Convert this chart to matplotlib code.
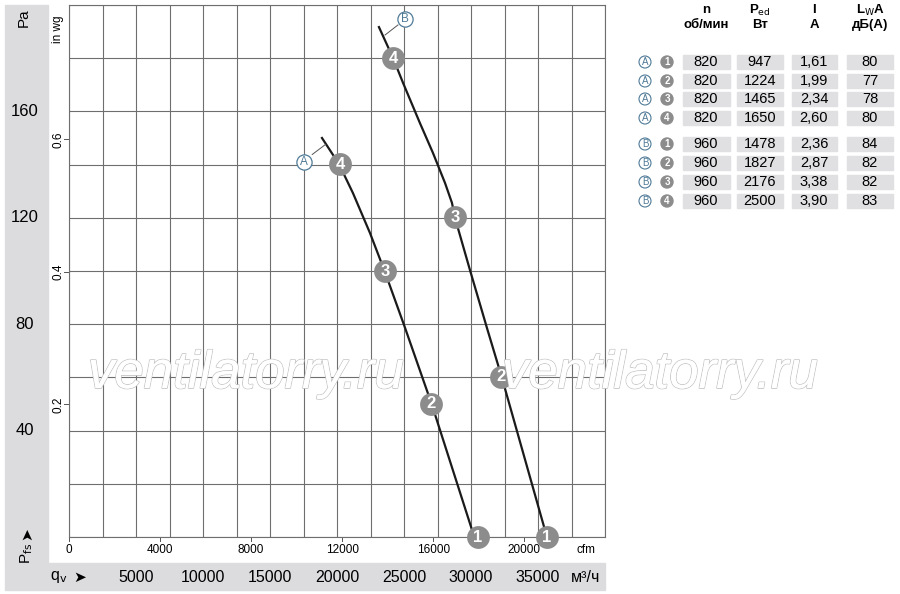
import matplotlib
matplotlib.use("Agg")
from matplotlib import pyplot as plt, font_manager
import matplotlib.patheffects as pe
import matplotlib.transforms as mtrans
from matplotlib.patches import Rectangle, Ellipse

# pick a condensed font if there is one
names = {f.name for f in font_manager.fontManager.ttflist}
narrow = 'Liberation Sans Narrow' if 'Liberation Sans Narrow' in names else 'Liberation Sans'
plt.rcParams['font.family'] = [narrow, 'DejaVu Sans']

# curves: flow in m3/h, static pressure in Pa
qa = [18880, 20150, 21190, 22460, 23580, 25080, 27090, 30150, 30300]
pa = [150.0, 140.2, 129.3, 114.3, 99.6, 78.6, 49.6, 1.5, 0]
qb = [23130, 24180, 24930, 26190, 27160, 28060, 28580, 28810, 29920, 31190, 32310, 35520, 35650]
pb = [191.7, 180.1, 170.7, 155.6, 144.4, 133.1, 125.6, 119.9, 100.4, 78.6, 59.8, 2.6, 0]

# operating points 4..1
opa_q = [20220, 23580, 27020, 30520]
opa_p = [140.2, 100.0, 50.0, 0]
opb_q = [24180, 28810, 32240, 35670]
opb_p = [180.0, 120.3, 60.2, 0]
op_num = ['4', '3', '2', '1']

pa_ticks = [40, 80, 120, 160]
inwg_ticks = [0.2, 0.4, 0.6]
cfm_ticks = [0, 4000, 8000, 12000, 16000, 20000]
m3h_ticks = [5000, 10000, 15000, 20000, 25000, 30000, 35000]

# table
t_letter = ['A', 'A', 'A', 'A', 'B', 'B', 'B', 'B']
t_num = ['1', '2', '3', '4', '1', '2', '3', '4']
t_n = ['820', '820', '820', '820', '960', '960', '960', '960']
t_p = ['947', '1224', '1465', '1650', '1478', '1827', '2176', '2500']
t_i = ['1,61', '1,99', '2,34', '2,60', '2,36', '2,87', '3,38', '3,90']
t_l = ['80', '77', '78', '80', '84', '82', '82', '83']

W, H = 900, 594
fig = plt.figure(figsize=(9, 5.94), dpi=100)

def fx(px):
    return px / W

def fy(py):
    return 1 - py / H

band = '#dcdcde'
fig.patches.append(Rectangle((fx(5), fy(562)), fx(43), fy(5) - fy(562), transform=fig.transFigure, color=band, zorder=0))
fig.patches.append(Rectangle((fx(5), fy(590)), fx(600), fy(563) - fy(590), transform=fig.transFigure, color=band, zorder=0))

ax = fig.add_axes([fx(69), fy(537), fx(536), fy(5) - fy(537)])
ax.set_xlim(0, 40000)
ax.set_ylim(0, 200)
ax.set_xticks(range(0, 40001, 2500))
ax.set_yticks(range(0, 201, 20))
ax.grid(True, color='#6e6e6e', lw=0.8)
ax.tick_params(length=0, labelbottom=False, labelleft=False)
for s in ax.spines.values():
    s.set_color('#6e6e6e')
    s.set_linewidth(0.8)

ax.plot(qa, pa, color='#1a1a1a', lw=1.6, zorder=3)
ax.plot(qb, pb, color='#1a1a1a', lw=1.6, zorder=3)

for qs, ps in [(opa_q, opa_p), (opb_q, opb_p)]:
    ax.scatter(qs, ps, s=270, color='#8c8c8c', zorder=4, clip_on=False, linewidths=0)
    for q, p, t in zip(qs, ps, op_num):
        ax.text(q, p, t, color='white', fontsize=12, fontweight='bold', ha='center', va='center',
                zorder=5, clip_on=False, family='Liberation Sans')

# curve labels A and B
blue = '#4f7a97'
ax.plot([18150, 19150], [143.8, 147.6], color='#555555', lw=0.7, zorder=3)
ax.plot([23580, 24550], [188.7, 192.5], color='#555555', lw=0.7, zorder=3)
for q, p, t in [(17540, 141, 'A'), (25075, 194.7, 'B')]:
    ax.scatter([q], [p], s=120, facecolor='white', edgecolor=blue, linewidths=0.9, zorder=4, clip_on=False)
    ax.text(q, p, t, color=blue, fontsize=8.5, ha='center', va='center', zorder=5, family='Liberation Sans')

# left band labels
fig.text(fx(24), fy(18), 'Pa', rotation=90, fontsize=11, ha='center', va='center')
for v in pa_ticks:
    fig.text(fx(25), fy(537 - v * 532 / 200), str(v), fontsize=12, ha='center', va='center')
fig.text(fx(27), fy(534), '➤', rotation=90, fontsize=11, ha='center', va='center', family='DejaVu Sans')
fig.text(fx(27), fy(553), r'P$_{\rm fs}$', rotation=90, fontsize=11, ha='center', va='center')

# in wg scale
yt = mtrans.blended_transform_factory(ax.transAxes, ax.transData)
ax.text(-0.02, 191, 'in wg', rotation=90, fontsize=8.5, ha='center', va='center', transform=yt)
for v in inwg_ticks:
    p = v * 249.09
    ax.plot([-0.009, 0], [p, p], color='#555555', lw=0.7, transform=yt, clip_on=False)
    ax.text(-0.02, p, ('%.1f' % v), rotation=90, fontsize=8.5, ha='center', va='center', transform=yt)

# cfm scale
xt = mtrans.blended_transform_factory(ax.transData, ax.transAxes)
for v in cfm_ticks:
    q = v * 1.699
    ax.plot([q, q], [0, -0.008], color='#555555', lw=0.7, transform=xt, clip_on=False)
    ax.text(q, -0.025, str(v), fontsize=8.5, ha='center', va='center', transform=xt)
ax.text(38600, -0.025, 'cfm', fontsize=8.5, ha='center', va='center', transform=xt)

# m3/h band
for v in m3h_ticks:
    fig.text(fx(69 + v * 536 / 40000), fy(577), str(v), fontsize=11.5, ha='center', va='center')
fig.text(fx(59), fy(577), r'q$_{\rm v}$', fontsize=11.5, ha='center', va='center')
fig.text(fx(80), fy(577), '➤', fontsize=11, ha='center', va='center', family='DejaVu Sans')
fig.text(fx(586), fy(577), 'м³/ч', fontsize=11.5, ha='center', va='center')

# watermark
for cx in [246, 660]:
    fig.text(fx(cx), fy(374), 'ventilatorry.ru', fontsize=38, style='italic', color='white',
             ha='center', va='center', family='Liberation Sans', zorder=2,
             path_effects=[pe.withStroke(linewidth=1.2, foreground='#c4c4c4'), pe.Normal()])

# table
cols_x = [706, 760, 814, 870]
col_w = [47, 46, 45, 46]
heads1 = ['n', r'P$_{\rm ed}$', 'I', r'L$_{\rm W}$A']
heads2 = ['об/мин', 'Вт', 'A', 'дБ(A)']
for x, h1, h2 in zip(cols_x, heads1, heads2):
    fig.text(fx(x), fy(10), h1, fontsize=9.5, fontweight='bold', ha='center', va='center')
    fig.text(fx(x), fy(25), h2, fontsize=9.5, fontweight='bold', ha='center', va='center')

row_y = [62, 81, 99, 118, 144, 163, 182, 201]
for i, y in enumerate(row_y):
    vals = [t_n[i], t_p[i], t_i[i], t_l[i]]
    for x, w, v in zip(cols_x, col_w, vals):
        fig.patches.append(Rectangle((fx(x - w / 2), fy(y + 7)), fx(w), fy(y - 7) - fy(y + 7),
                                     transform=fig.transFigure, color='#e0e0e2', zorder=0))
        fig.text(fx(x), fy(y), v, fontsize=10.5, ha='center', va='center')
    fig.patches.append(Ellipse((fx(645), fy(y)), 12 / W, 12 / H, transform=fig.transFigure,
                               facecolor='white', edgecolor=blue, lw=0.8))
    fig.text(fx(645), fy(y), t_letter[i], fontsize=7, color=blue, ha='center', va='center',
             family='Liberation Sans')
    fig.patches.append(Ellipse((fx(667), fy(y)), 12 / W, 12 / H, transform=fig.transFigure, color='#8c8c8c'))
    fig.text(fx(667), fy(y), t_num[i], fontsize=7, color='white', fontweight='bold', ha='center',
             va='center', family='Liberation Sans')

fig.savefig('out.png', dpi=100)
